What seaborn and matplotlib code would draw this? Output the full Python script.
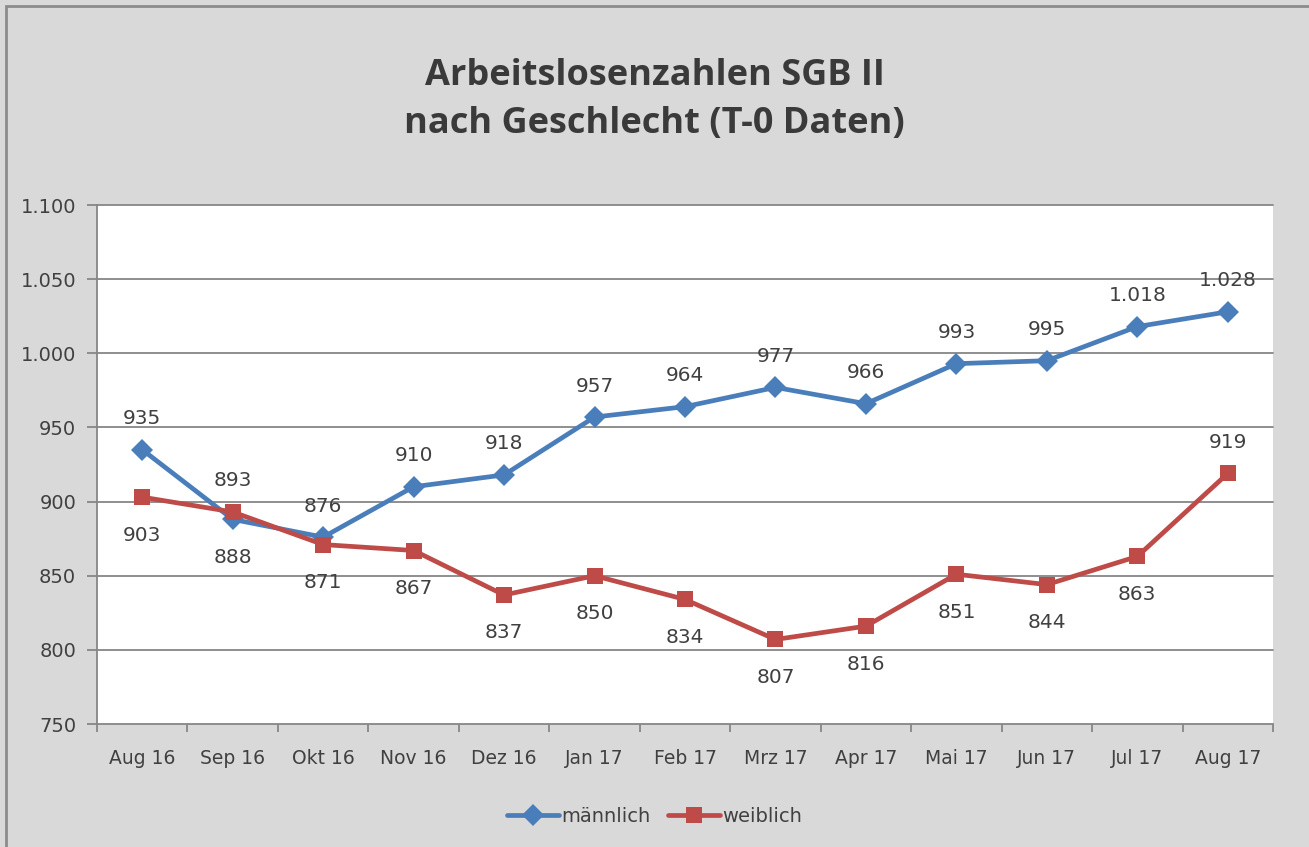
import pandas as pd
import matplotlib
matplotlib.use("Agg")
import matplotlib.pyplot as plt
import seaborn as sns
from matplotlib.patches import Rectangle

# Daten
monate = ["Aug 16", "Sep 16", "Okt 16", "Nov 16", "Dez 16", "Jan 17", "Feb 17",
          "Mrz 17", "Apr 17", "Mai 17", "Jun 17", "Jul 17", "Aug 17"]
maennlich = [935, 888, 876, 910, 918, 957, 964, 977, 966, 993, 995, 1018, 1028]
weiblich = [903, 893, 871, 867, 837, 850, 834, 807, 816, 851, 844, 863, 919]
# Lage der Beschriftung: 1 = oberhalb, -1 = unterhalb
lage_m = [1, -1, 1, 1, 1, 1, 1, 1, 1, 1, 1, 1, 1]
lage_w = [-1, 1, -1, -1, -1, -1, -1, -1, -1, -1, -1, -1, 1]
y_ticks = [750, 800, 850, 900, 950, 1000, 1050, 1100]

df = pd.DataFrame({
    "pos": list(range(len(monate))) * 2,
    "wert": maennlich + weiblich,
    "geschlecht": ["männlich"] * len(monate) + ["weiblich"] * len(monate),
})

def fmt(v):
    return f"{v:,}".replace(",", ".")

sns.set_theme(style="white")
plt.rcParams["font.family"] = ["DejaVu Sans"]
textfarbe = "#404040"
grau = "#868686"

fig = plt.figure(figsize=(13.09, 8.47), dpi=100, facecolor="#d9d9d9")
ax = fig.add_axes([97 / 1309, 1 - 724 / 847, (1273 - 97) / 1309, (724 - 205) / 847])
ax.set_facecolor("white")

farben = {"männlich": "#4a7ebb", "weiblich": "#be4b48"}
sns.lineplot(data=df, x="pos", y="wert", hue="geschlecht", style="geschlecht",
             palette=farben, markers={"männlich": "D", "weiblich": "s"},
             dashes=False, linewidth=3.4, markersize=11.5, markeredgewidth=0,
             ax=ax, legend=True, zorder=3)

ax.set_xlim(-0.5, len(monate) - 0.5)
ax.set_ylim(750, 1100)
ax.set_yticks(y_ticks)
ax.set_yticklabels([fmt(t) for t in y_ticks])
ax.set_xticks(range(len(monate)))
ax.set_xticklabels(monate)
ax.set_xticks([i - 0.5 for i in range(len(monate) + 1)], minor=True)
ax.tick_params(axis="x", which="major", length=0, pad=18, labelsize=13.5, labelcolor=textfarbe)
ax.tick_params(axis="x", which="minor", length=6, width=1.3, color=grau, direction="out",
               bottom=True)
ax.tick_params(axis="y", length=7, width=1.3, color=grau, direction="out", pad=8,
               labelsize=14, labelcolor=textfarbe, left=True)
ax.set_xlabel("")
ax.set_ylabel("")

# Gitternetzlinien (auch die oberste bei 1.100)
for t in y_ticks[1:]:
    ax.axhline(t, color=grau, linewidth=1.3, zorder=1, clip_on=False)
for s in ["top", "right"]:
    ax.spines[s].set_visible(False)
for s in ["left", "bottom"]:
    ax.spines[s].set_color(grau)
    ax.spines[s].set_linewidth(1.3)

# Datenbeschriftungen
for werte, lagen in [(maennlich, lage_m), (weiblich, lage_w)]:
    for i, (v, l) in enumerate(zip(werte, lagen)):
        ax.annotate(fmt(v), (i, v), textcoords="offset pixels",
                    xytext=(0, 31 if l > 0 else -38), ha="center", va="center",
                    fontsize=14.5, color=textfarbe, annotation_clip=False, zorder=4)

# Legende unten
handles, labels = ax.get_legend_handles_labels()
ax.get_legend().remove()
fig.legend(handles, labels, loc="center", bbox_to_anchor=(0.5, 1 - 816 / 847),
           ncol=2, frameon=False, fontsize=14, handlelength=2.7,
           handletextpad=0.1, columnspacing=0.9, labelcolor=textfarbe)

fig.suptitle("Arbeitslosenzahlen SGB II\nnach Geschlecht (T-0 Daten)",
             y=1 - 100 / 847, va="center", fontsize=26, fontweight="bold",
             color="#3a3a3a", family=["Open Sans", "DejaVu Sans"], linespacing=1.45)

# Rahmen des Diagrammbereichs
fig.patches.append(Rectangle((6 / 1309, -0.1), 1.2, 1 - 6 / 847 + 0.1,
                             transform=fig.transFigure, fill=False,
                             edgecolor="#8c8c8c", linewidth=2.0))

fig.savefig("out.png", dpi=100, facecolor=fig.get_facecolor())
